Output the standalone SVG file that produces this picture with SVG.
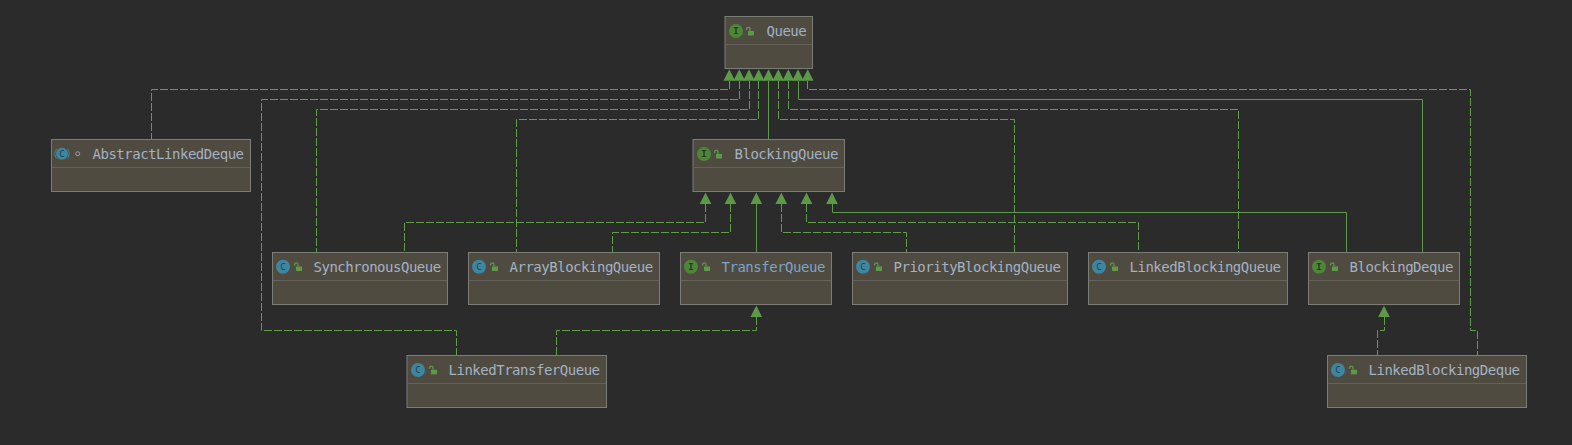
<svg xmlns="http://www.w3.org/2000/svg" xmlns:xlink="http://www.w3.org/1999/xlink" width="1572" height="445" viewBox="0 0 1572 445">
<style>
.box{fill:#4f4b41;stroke:#7d7d78;stroke-width:1}
.div{stroke:#63615a;stroke-width:1;fill:none}
.name{font-family:"DejaVu Sans Mono","Liberation Mono",monospace;font-size:14px;letter-spacing:-0.48px;fill:#a3b2c4}
.blue{fill:#7ba3c9}
.cls{fill:#3e86a0}
.ifc{fill:#4d8638}
.letc{font-family:"DejaVu Sans Mono","Liberation Mono",monospace;font-size:9px;text-anchor:middle;fill:#24404c}
.leti{font-family:"DejaVu Sans Mono","Liberation Mono",monospace;font-size:9px;font-weight:bold;text-anchor:middle;fill:#263a1e}
.solid{fill:none;stroke:#5c9a48;stroke-width:1}
.dash{fill:none;stroke:#5f9f4a;stroke-width:1;stroke-dasharray:8 2}
.head{fill:#5c9a48}
.lock-b{fill:#5c9a48}
.lock-s{fill:none;stroke:#5c9a48;stroke-width:1.3}
</style>
<defs>
<g id="lock"><rect class="lock-b" x="1" y="3.5" width="6" height="4.5"/><path class="lock-s" d="M-0.4 2.5V1.5a1.7 1.7 0 0 1 3.4 0V3.5"/></g>
<path id="tri" class="head" d="M0 0L5.8 11.5H-5.8Z"/>
</defs>
<rect width="1572" height="445" fill="#2b2b2b"/>
<g id="connectors">
<path class="dash" d="M729.5 81V89.5H151.5V139"/>
<path class="dash" d="M739.5 81V99.5H261.5V330.5H456.5V355"/>
<path class="dash" d="M749.5 81V109.5H316.5V252"/>
<path class="dash" d="M758.5 81V119.5H516.5V252"/>
<path class="solid" d="M768.5 81V139"/>
<path class="dash" d="M778.5 81V119.5H1014.5V252"/>
<path class="dash" d="M788.5 81V109.5H1238.5V252"/>
<path class="solid" d="M798.5 81V99.5H1422.5V252"/>
<path class="dash" d="M807.5 81V89.5H1470.5V330.5H1477.5V355"/>
<path class="dash" d="M705.5 204V222.5H404.5V252"/>
<path class="dash" d="M730.5 204V232.5H612.5V252"/>
<path class="solid" d="M756.5 204V252"/>
<path class="dash" d="M781.5 204V232.5H906.5V252"/>
<path class="dash" d="M806.5 204V222.5H1138.5V252"/>
<path class="solid" d="M832.5 204V212.5H1346.5V252"/>
<path class="dash" d="M756.5 317V330.5H556.5V355"/>
<path class="dash" d="M1384.5 317V330.5H1377.5V355"/>
<use href="#tri" x="729.3" y="69.2"/><use href="#tri" x="739.3" y="69.2"/><use href="#tri" x="749" y="69.2"/><use href="#tri" x="758.7" y="69.2"/><use href="#tri" x="768.5" y="69.2"/><use href="#tri" x="778.3" y="69.2"/><use href="#tri" x="788.3" y="69.2"/><use href="#tri" x="798" y="69.2"/><use href="#tri" x="807.7" y="69.2"/>
<use href="#tri" x="705.5" y="192.5"/><use href="#tri" x="730.5" y="192.5"/><use href="#tri" x="756.3" y="192.5"/><use href="#tri" x="781.3" y="192.5"/><use href="#tri" x="806.5" y="192.5"/><use href="#tri" x="832" y="192.5"/>
<use href="#tri" x="756.3" y="305.5"/><use href="#tri" x="1384" y="305.5"/>
</g>
<g id="Queue"><rect class="box" x="725" y="16.5" width="87.5" height="52"/><path class="div" d="M725 44.5H812"/><circle class="ifc" cx="736" cy="31" r="7"/><text class="leti" x="736" y="34">I</text><use href="#lock" x="747" y="27.5"/><text class="name" x="766.5" y="35.5">Queue</text></g>
<g id="AbstractLinkedDeque"><rect class="box" x="51.5" y="139.5" width="199" height="52"/><path class="div" d="M52 167.5H250"/><circle class="cls" cx="62" cy="153.7" r="6"/><path class="lock-s" style="stroke:#3e86a0;stroke-width:1" d="M56.5 149a8 8 0 0 0 0 9.4M67.5 149a8 8 0 0 1 0 9.4"/><text class="letc" x="62" y="156.7">C</text><circle cx="77.7" cy="153.7" r="2" fill="none" stroke="#a0a09a" stroke-width="1"/><text class="name" x="92.5" y="158.5">AbstractLinkedDeque</text></g>
<g id="BlockingQueue"><rect class="box" x="693" y="139.5" width="151.5" height="52"/><path class="div" d="M693 167.5H844"/><circle class="ifc" cx="704" cy="154" r="7"/><text class="leti" x="704" y="157">I</text><use href="#lock" x="715" y="150.5"/><text class="name" x="734.5" y="158.5">BlockingQueue</text></g>
<g id="SynchronousQueue"><rect class="box" x="272.5" y="252.5" width="175" height="52"/><path class="div" d="M273 280.5H447"/><circle class="cls" cx="283" cy="266.7" r="7"/><text class="letc" x="283" y="269.7">C</text><use href="#lock" x="295" y="263"/><text class="name" x="313.5" y="271.5">SynchronousQueue</text></g>
<g id="ArrayBlockingQueue"><rect class="box" x="468.5" y="252.5" width="191" height="52"/><path class="div" d="M469 280.5H659"/><circle class="cls" cx="479" cy="266.7" r="7"/><text class="letc" x="479" y="269.7">C</text><use href="#lock" x="491" y="263"/><text class="name" x="509.5" y="271.5">ArrayBlockingQueue</text></g>
<g id="TransferQueue"><rect class="box" x="680.5" y="252.5" width="151" height="52"/><path class="div" d="M681 280.5H831"/><circle class="ifc" cx="691" cy="266.7" r="7"/><text class="leti" x="691" y="269.7">I</text><use href="#lock" x="703" y="263"/><text class="name blue" x="721.5" y="271.5">TransferQueue</text></g>
<g id="PriorityBlockingQueue"><rect class="box" x="852.5" y="252.5" width="215" height="52"/><path class="div" d="M853 280.5H1067"/><circle class="cls" cx="863" cy="266.7" r="7"/><text class="letc" x="863" y="269.7">C</text><use href="#lock" x="875" y="263"/><text class="name" x="893.5" y="271.5">PriorityBlockingQueue</text></g>
<g id="LinkedBlockingQueue"><rect class="box" x="1088.5" y="252.5" width="199" height="52"/><path class="div" d="M1089 280.5H1287"/><circle class="cls" cx="1099" cy="266.7" r="7"/><text class="letc" x="1099" y="269.7">C</text><use href="#lock" x="1111" y="263"/><text class="name" x="1129.5" y="271.5">LinkedBlockingQueue</text></g>
<g id="BlockingDeque"><rect class="box" x="1308.5" y="252.5" width="151" height="52"/><path class="div" d="M1309 280.5H1459"/><circle class="ifc" cx="1319" cy="266.7" r="7"/><text class="leti" x="1319" y="269.7">I</text><use href="#lock" x="1331" y="263"/><text class="name" x="1349.5" y="271.5">BlockingDeque</text></g>
<g id="LinkedTransferQueue"><rect class="box" x="407" y="355.5" width="199.5" height="52"/><path class="div" d="M408 383.5H606"/><circle class="cls" cx="418" cy="370" r="7"/><text class="letc" x="418" y="373">C</text><use href="#lock" x="430" y="366.3"/><text class="name" x="448.5" y="374.5">LinkedTransferQueue</text></g>
<g id="LinkedBlockingDeque"><rect class="box" x="1327.5" y="355.5" width="199" height="52"/><path class="div" d="M1328 383.5H1526"/><circle class="cls" cx="1338" cy="370" r="7"/><text class="letc" x="1338" y="373">C</text><use href="#lock" x="1350" y="366.3"/><text class="name" x="1368.5" y="374.5">LinkedBlockingDeque</text></g>
</svg>
